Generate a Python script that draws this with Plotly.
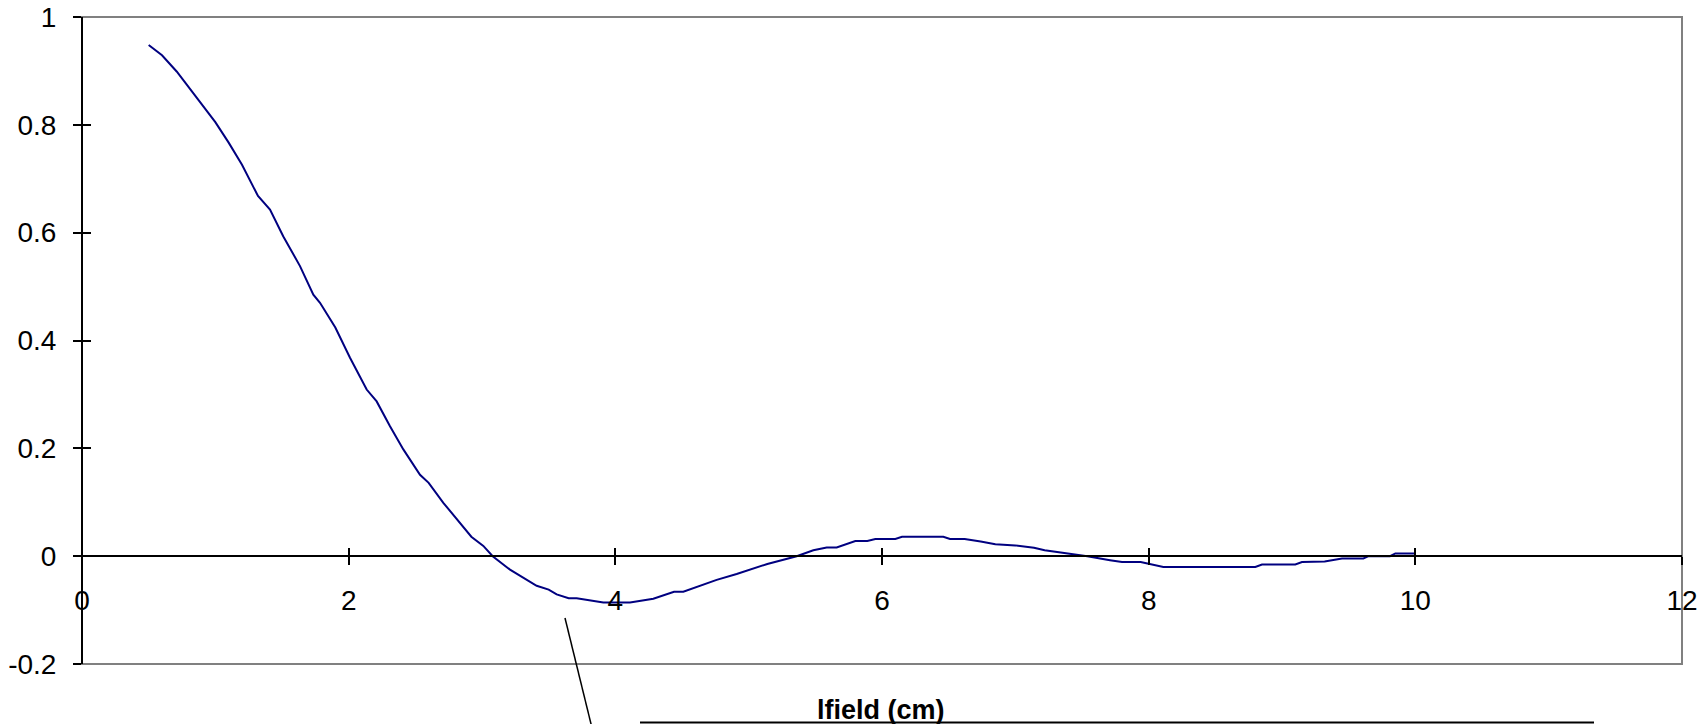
import plotly.graph_objects as go

# Curve data
lfield_cm = [0.5, 0.6, 0.71, 0.86, 1.0, 1.10, 1.20, 1.32, 1.41, 1.51, 1.635, 1.735, 1.785,
             1.90, 2.01, 2.135, 2.21, 2.31, 2.41, 2.535, 2.60, 2.71, 2.81, 2.92, 3.01, 3.08,
             3.21, 3.41, 3.50, 3.56, 3.65, 3.71, 3.91, 4.11, 4.285, 4.44, 4.51, 4.76, 4.91,
             5.14, 5.36, 5.485, 5.585, 5.66, 5.80, 5.89, 5.95, 6.10, 6.15, 6.46, 6.51, 6.62,
             6.74, 6.85, 7.00, 7.14, 7.22, 7.37, 7.54, 7.71, 7.80, 7.94, 8.11, 8.80, 8.85,
             9.10, 9.15, 9.32, 9.45, 9.61, 9.65, 9.81, 9.85, 10.0]
correlation = [0.948, 0.929, 0.899, 0.850, 0.805, 0.767, 0.726, 0.668, 0.643, 0.593, 0.538, 0.485, 0.470,
               0.424, 0.368, 0.309, 0.287, 0.241, 0.198, 0.151, 0.136, 0.099, 0.068, 0.036, 0.019, 0.0,
               -0.025, -0.055, -0.062, -0.071, -0.078, -0.078, -0.086, -0.086, -0.079, -0.066, -0.066, -0.044, -0.033,
               -0.0145, 0.0, 0.011, 0.016, 0.016, 0.028, 0.028, 0.032, 0.032, 0.036, 0.036, 0.032, 0.032,
               0.027, 0.022, 0.020, 0.0155, 0.011, 0.006, 0.0, -0.0074, -0.011, -0.011, -0.020, -0.020, -0.0155,
               -0.0155, -0.011, -0.010, -0.0043, -0.0043, 0.0, 0.0, 0.005, 0.005]

x_tickvals = [0, 2, 4, 6, 8, 10, 12]
x_ticktext = ["0", "2", "4", "6", "8", "10", "12"]
y_tickvals = [-0.2, 0, 0.2, 0.4, 0.6, 0.8, 1]
y_ticktext = ["-0.2", "0", "0.2", "0.4", "0.6", "0.8", "1"]
x_range = [0, 12]
y_range = [-0.2, 1]
axis_title = "lfield (cm)"

FONT = "Liberation Sans, Arial, sans-serif"
zero_pos = (0 - y_range[0]) / (y_range[1] - y_range[0])

fig = go.Figure()
fig.add_trace(go.Scatter(x=lfield_cm, y=correlation, mode="lines",
                         line=dict(color="#000080", width=2), hoverinfo="x+y",
                         showlegend=False))
# empty trace to activate the overlaying axes (inside half of the crossing ticks)
fig.add_trace(go.Scatter(x=[], y=[], xaxis="x2", yaxis="y2", showlegend=False))

common = dict(showgrid=False, zeroline=False, tickcolor="black", tickwidth=2, ticklen=8,
              tickfont=dict(family=FONT, size=28, color="black"))

fig.update_layout(
    width=1708, height=724,
    margin=dict(l=82, r=26, t=17, b=60, autoexpand=False),
    paper_bgcolor="white", plot_bgcolor="white",
    font=dict(family=FONT, color="black"),
    xaxis=dict(range=x_range, tickvals=x_tickvals, ticktext=x_ticktext, ticks="outside",
               anchor="free", position=zero_pos, showline=True, linecolor="black", linewidth=2,
               ticklabelstandoff=11, domain=[0, 1], **common),
    xaxis2=dict(range=x_range, tickvals=x_tickvals, ticks="inside", overlaying="x",
                anchor="free", position=zero_pos, showline=False, showticklabels=False,
                domain=[0, 1], **common),
    yaxis=dict(range=y_range, tickvals=y_tickvals, ticktext=y_ticktext, ticks="outside",
               anchor="free", position=0, showline=True, linecolor="black", linewidth=2,
               ticklabelstandoff=11, domain=[0, 1], **common),
    yaxis2=dict(range=y_range, tickvals=y_tickvals, ticks="inside", overlaying="y",
                anchor="free", position=0, showline=False, showticklabels=False,
                domain=[0, 1], **common),
)

# plot-area border (gray)
fig.add_shape(type="rect", xref="paper", yref="paper", x0=0, x1=1, y0=0, y1=1,
              line=dict(color="#808080", width=2), layer="below")

# callout: title text, underline and leader line (pixel positions converted to paper)
W, H = 1600.0, 647.0
def px(xp): return (xp - 82) / W
def py(yp): return (664 - yp) / H

fig.add_annotation(text="<b>" + axis_title + "</b>", xref="paper", yref="paper",
                   x=px(881), y=py(710), xanchor="center", yanchor="middle", showarrow=False,
                   font=dict(family=FONT, size=27, color="black"))
fig.add_shape(type="line", xref="paper", yref="paper", x0=px(640), x1=px(1594),
              y0=py(722.5), y1=py(722.5), line=dict(color="black", width=2))
fig.add_shape(type="line", xref="paper", yref="paper", x0=px(565), x1=px(592.5),
              y0=py(618), y1=py(730), line=dict(color="black", width=1.5))

fig.write_html("out.html", config={"displayModeBar": False})

# remove the default page margin so the figure sits at the window's top-left corner
with open("out.html", "r", encoding="utf-8") as f:
    html = f.read()
html = html.replace("<head>", "<head><style>html,body{margin:0;padding:0;overflow:hidden;}</style>", 1)
with open("out.html", "w", encoding="utf-8") as f:
    f.write(html)
